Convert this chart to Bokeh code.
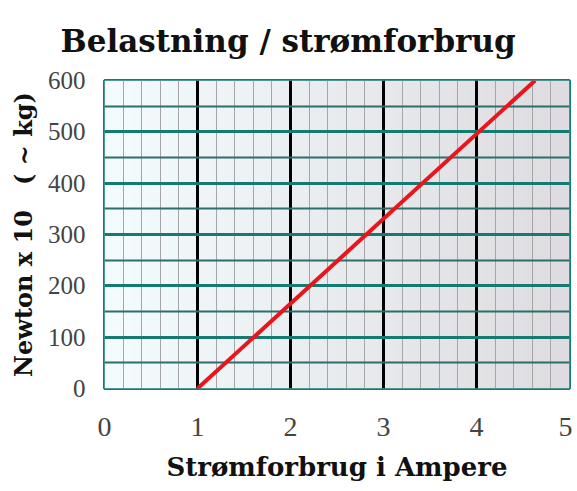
import numpy as np
from bokeh.plotting import figure
from bokeh.models import Range1d, SingleIntervalTicker, FixedTicker
from bokeh.embed import file_html
from bokeh.resources import INLINE

# data
current_amp = [1.0, 4.63]
load_newton10 = [0, 600]
x_ticks = [0, 1, 2, 3, 4, 5]
y_ticks = [0, 100, 200, 300, 400, 500, 600]

X0, X1 = x_ticks[0], x_ticks[-1]
Y0, Y1 = y_ticks[0], y_ticks[-1]

p = figure(width=572, height=488, output_backend="svg", toolbar_location=None,
           x_range=Range1d(X0, X1), y_range=Range1d(Y0, Y1),
           min_border_left=104, min_border_right=3, min_border_top=80,
           min_border_bottom=100, background_fill_color="white",
           border_fill_color="white")

# background gradient (cyan-white to light grey)
n = 256
c0 = np.array([244, 252, 254])
c1 = np.array([222, 220, 224])
t = np.linspace(0, 1, n)[None, :, None]
rgb = (c0 * (1 - t) + c1 * t).astype(np.uint8)
img = np.empty((1, n), dtype=np.uint32)
view = img.view(dtype=np.uint8).reshape((1, n, 4))
view[..., :3] = rgb
view[..., 3] = 255
p.image_rgba(image=[img], x=X0, y=Y0, dw=X1 - X0, dh=Y1 - Y0, level="image")

p.title.text = "Belastning / strømforbrug"
p.title.text_font = "DejaVu Serif"
p.title.text_font_size = "31px"
p.title.text_font_style = "bold"
p.title.align = "left"
p.title.offset = -44
p.title.vertical_align = "top"
p.title.standoff = 40
p.title.text_color = "#111111"

for ax in (p.xaxis, p.yaxis):
    ax.axis_line_color = None
    ax.major_tick_line_color = None
    ax.minor_tick_line_color = None
    ax.major_label_text_font = "Liberation Serif"
    ax.major_label_text_color = "#444444"
    ax.axis_label_text_font = "DejaVu Serif"
    ax.axis_label_text_font_style = "bold"
    ax.axis_label_text_color = "#111111"

p.xaxis.ticker = FixedTicker(ticks=x_ticks)
p.yaxis.ticker = FixedTicker(ticks=y_ticks)
p.xaxis.major_label_text_font_size = "28px"
p.yaxis.major_label_text_font_size = "25px"
p.xaxis.major_label_standoff = 23
p.yaxis.major_label_standoff = 13
p.xaxis.axis_label = "Strømforbrug i Ampere"
p.yaxis.axis_label = "Newton x 10\u00a0\u00a0\u00a0( ~ kg)"
p.xaxis.axis_label_text_font_size = "26px"
p.yaxis.axis_label_text_font_size = "24px"
p.xaxis.axis_label_standoff = 13
p.yaxis.axis_label_standoff = 7

p.xgrid.ticker = SingleIntervalTicker(interval=1, num_minor_ticks=5)
p.xgrid.grid_line_color = "black"
p.xgrid.grid_line_width = 3
p.xgrid.minor_grid_line_color = "#a6a6a6"
p.xgrid.minor_grid_line_width = 1

p.ygrid.ticker = SingleIntervalTicker(interval=100, num_minor_ticks=2)
p.ygrid.grid_line_color = "#157a72"
p.ygrid.grid_line_width = 3
p.ygrid.minor_grid_line_color = "#2b6e6a"
p.ygrid.minor_grid_line_width = 2

p.outline_line_color = "#157a72"
p.outline_line_width = 3
p.outline_line_alpha = 1

p.line(current_amp, load_newton10, line_color="#e8161c", line_width=4)

open("out.html", "w").write(file_html(p, INLINE))
